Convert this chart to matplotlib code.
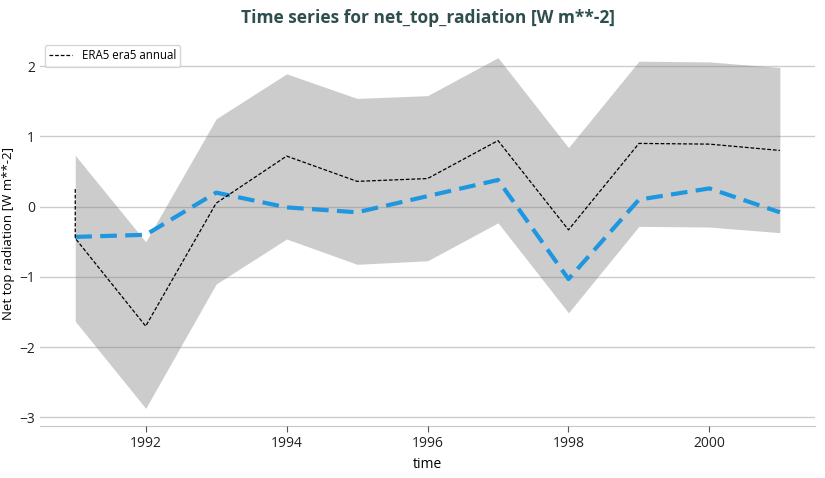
import matplotlib as mpl
import matplotlib.pyplot as plt

years = [1991, 1991, 1992, 1993, 1994, 1995, 1996, 1997, 1998, 1999, 2000, 2001]
era5 = [0.25, -0.45, -1.70, 0.05, 0.72, 0.36, 0.40, 0.94, -0.33, 0.90, 0.89, 0.80]

model_years = [1991, 1992, 1993, 1994, 1995, 1996, 1997, 1998, 1999, 2000, 2001]
model_mean = [-0.43, -0.40, 0.20, -0.01, -0.08, 0.15, 0.38, -1.03, 0.10, 0.26, -0.08]

band_years = [1991, 1991, 1992, 1993, 1994, 1995, 1996, 1997, 1998, 1999, 2000, 2001]
band_upper = [1.45, 0.73, -0.50, 1.25, 1.89, 1.54, 1.58, 2.12, 0.84, 2.07, 2.06, 1.98]
band_lower = [-1.63, -1.63, -2.87, -1.10, -0.46, -0.82, -0.77, -0.23, -1.51, -0.28, -0.29, -0.37]

mpl.rcParams.update({
  'font.family': ['Open Sans', 'DejaVu Sans'],
  'font.size': 10
})

fig = plt.figure( figsize = ( 8.25, 4.78 ), dpi = 100 )
ax = fig.add_axes( [ 0.0485, 0.109, 0.9395, 0.807 ] )

ax.fill_between( band_years, band_lower, band_upper, color = '#cccccc', linewidth = 0, zorder = 1 )
ax.plot( model_years, model_mean, color = '#1e96e0', linewidth = 3, dashes = ( 4, 2 ), zorder = 3 )
ax.plot( years, era5, color = 'black', linewidth = 0.9, dashes = ( 3, 1.5 ), label = 'ERA5 era5 annual', zorder = 4 )

ax.set_xticks( [ 1992, 1994, 1996, 1998, 2000 ] )
ax.set_yticks( [ -3, -2, -1, 0, 1, 2 ] )
ax.set_axisbelow( False )
ax.grid( axis = 'y', color = '#808080', alpha = 0.4, linewidth = 1 )
for gl in ax.get_ygridlines():
  gl.set_zorder( 2 )

for s in [ 'top', 'right', 'left' ]:
  ax.spines[ s ].set_visible( False )
ax.spines[ 'bottom' ].set_color( '#c8c8c8' )
ax.tick_params( axis = 'x', length = 4, color = '#555555', labelsize = 10, colors = '#222222' )
ax.tick_params( axis = 'y', length = 0, labelsize = 10, colors = '#222222' )

ax.set_xlabel( 'time', fontsize = 10 )
ax.set_ylabel( 'Net top radiation [W m**-2]', fontsize = 9.5, labelpad = 3 )
ax.set_title( 'Time series for net_top_radiation [W m**-2]', fontsize = 12.5, fontweight = 'bold', color = '#2f4f4f', pad = 12 )

ax.legend( loc = 'upper left', fontsize = 8.3, frameon = True, edgecolor = '#cccccc', borderaxespad = 0.4 )

fig.savefig( 'out.png' )
